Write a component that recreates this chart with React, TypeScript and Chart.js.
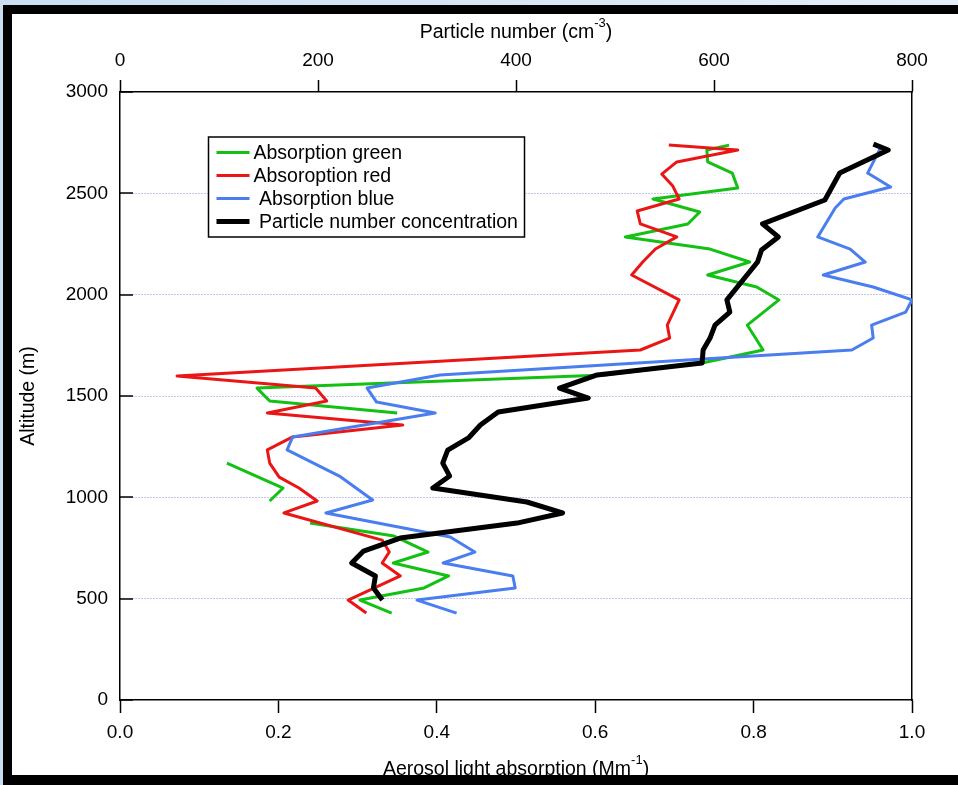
import React, { useEffect, useRef } from "react";
import { Chart, registerables } from "chart.js";

Chart.register(...registerables);

const FONT = "'Liberation Sans', Arial, Helvetica, sans-serif";

// Altitude (m) and aerosol light absorption (Mm^-1); null = gap in the profile
const greenAltitude = [2738, 2714, 2655, 2600, 2526, 2472, 2408, 2349, 2285, 2225, 2161, 2097, 2038, 1974, 1850, 1727, 1663, 1604, 1539, 1475, 1416, null, 1169, 1046, 982, null, 873, 809, 730, 676, 612, 553, 493, 429];
const greenAbsorption = [0.769, 0.741, 0.742, 0.773, 0.78, 0.673, 0.732, 0.717, 0.638, 0.745, 0.795, 0.742, 0.804, 0.832, 0.792, 0.812, 0.735, 0.612, 0.173, 0.189, 0.35, null, 0.135, 0.206, 0.189, null, 0.24, 0.346, 0.389, 0.345, 0.415, 0.384, 0.303, 0.343];

const redAltitude = [2738, 2714, 2655, 2595, 2536, 2472, 2413, 2349, 2285, 2225, 2161, 2097, 1974, 1850, 1786, 1727, 1599, 1539, 1475, 1416, 1357, 1298, 1234, 1169, 1100, 1046, 982, 923, 789, 730, 676, 612, 493, 429];
const redAbsorption = [0.693, 0.78, 0.703, 0.684, 0.698, 0.706, 0.653, 0.657, 0.703, 0.676, 0.66, 0.646, 0.706, 0.691, 0.694, 0.657, 0.072, 0.247, 0.261, 0.186, 0.357, 0.218, 0.186, 0.189, 0.201, 0.226, 0.249, 0.207, 0.331, 0.34, 0.331, 0.354, 0.288, 0.311];

const blueAltitude = [2738, 2600, 2531, 2472, 2428, 2285, 2225, 2161, 2097, 2038, 1974, 1914, 1850, 1786, 1727, 1604, 1539, 1470, 1416, 1298, 1234, 1105, 987, 923, 804, 730, 676, 612, 553, 493, 429];
const blueAbsorption = [0.962, 0.944, 0.973, 0.914, 0.903, 0.881, 0.922, 0.941, 0.888, 0.951, 1.0, 0.992, 0.949, 0.951, 0.924, 0.404, 0.312, 0.324, 0.398, 0.218, 0.211, 0.277, 0.319, 0.26, 0.417, 0.448, 0.408, 0.496, 0.499, 0.375, 0.425];

// Particle number concentration (cm^-3), top axis
const blackAltitude = [2743, 2714, 2600, 2467, 2349, 2285, 2220, 2161, 1974, 1914, 1850, 1786, 1727, 1663, 1604, 1539, 1490, 1421, 1357, 1293, 1233, 1169, 1105, 1046, 977, 923, 873, 799, 735, 676, 612, 553, 493];
const blackParticles = [761, 776, 727, 712, 649, 665, 648, 644, 613, 616, 601, 596, 589, 588, 482, 444, 473, 382, 364, 352, 331, 326, 333, 316, 411, 447, 401, 283, 246, 234, 258, 256, 265];

const seriesLabels = ["Absorption green", "Absoroption red", " Absorption blue", " Particle number concentration"];
const seriesColors = ["#14c014", "#ea1616", "#4a7df0", "#000000"];

const topTitle = [{ t: "Particle number (cm" }, { t: "-3", sup: true }, { t: ")" }];
const bottomTitle = [{ t: "Aerosol light absorption (Mm" }, { t: "-1", sup: true }, { t: ")" }];
const leftTitle = [{ t: "Altitude (m)" }];

function toPoints(alts: (number | null)[], vals: (number | null)[]) {
  return alts.map((a, i) =>
    a === null || vals[i] === null ? { x: NaN, y: NaN } : { x: vals[i] as number, y: a }
  );
}

function drawRich(ctx: CanvasRenderingContext2D, parts: { t: string; sup?: boolean }[], cx: number, cy: number) {
  const big = `19.5px ${FONT}`;
  const small = `13px ${FONT}`;
  let w = 0;
  parts.forEach((p) => {
    ctx.font = p.sup ? small : big;
    w += ctx.measureText(p.t).width;
  });
  let x = cx - w / 2;
  ctx.textBaseline = "middle";
  ctx.textAlign = "left";
  ctx.fillStyle = "#000";
  parts.forEach((p) => {
    ctx.font = p.sup ? small : big;
    ctx.fillText(p.t, x, p.sup ? cy - 10 : cy);
    x += ctx.measureText(p.t).width;
  });
}

const decorPlugin = {
  id: "decor",
  afterDraw(chart: any) {
    const { ctx, chartArea, scales } = chart;
    const ys = scales.y;
    ctx.save();
    // inward ticks on the altitude axis
    ctx.strokeStyle = "#000";
    ctx.lineWidth = 1.5;
    ys.ticks.forEach((t: any) => {
      const py = Math.round(ys.getPixelForValue(t.value));
      ctx.beginPath();
      ctx.moveTo(chartArea.left, py);
      ctx.lineTo(chartArea.left + 13, py);
      ctx.stroke();
    });
    const cx = (chartArea.left + chartArea.right) / 2;
    drawRich(ctx, topTitle, cx, chartArea.top - 59);
    drawRich(ctx, bottomTitle, cx, chartArea.bottom + 70);
    ctx.save();
    ctx.translate(chartArea.left - 91, (chartArea.top + chartArea.bottom) / 2);
    ctx.rotate(-Math.PI / 2);
    drawRich(ctx, leftTitle, 0, 0);
    ctx.restore();

    // legend
    const lx = chartArea.left + 88.5;
    const ly = chartArea.top + 45;
    ctx.fillStyle = "#fff";
    ctx.fillRect(lx, ly, 316, 100);
    ctx.strokeStyle = "#000";
    ctx.lineWidth = 1.5;
    ctx.strokeRect(lx, ly, 316, 100);
    chart.data.datasets.forEach((ds: any, i: number) => {
      const ry = ly + 15.5 + i * 23;
      ctx.strokeStyle = ds.borderColor;
      ctx.lineWidth = ds.borderWidth;
      ctx.beginPath();
      ctx.moveTo(lx + 8, ry);
      ctx.lineTo(lx + 41, ry);
      ctx.stroke();
      ctx.fillStyle = "#000";
      ctx.font = `19.5px ${FONT}`;
      ctx.textBaseline = "middle";
      ctx.textAlign = "left";
      ctx.fillText(ds.label, lx + 45, ry + 1);
    });
    ctx.restore();
  },
};

export default function App() {
  const ref = useRef<HTMLCanvasElement>(null);

  useEffect(() => {
    if (!ref.current) return;
    Chart.defaults.font.family = FONT;
    const tickFont = { size: 19, family: FONT };
    const chart = new Chart(ref.current, {
      type: "line",
      data: {
        datasets: [
          { label: seriesLabels[0], data: toPoints(greenAltitude, greenAbsorption), borderColor: seriesColors[0], borderWidth: 3, xAxisID: "x", yAxisID: "y", order: 3 },
          { label: seriesLabels[1], data: toPoints(redAltitude, redAbsorption), borderColor: seriesColors[1], borderWidth: 3, xAxisID: "x", yAxisID: "y", order: 2 },
          { label: seriesLabels[2], data: toPoints(blueAltitude, blueAbsorption), borderColor: seriesColors[2], borderWidth: 3, xAxisID: "x", yAxisID: "y", order: 1 },
          { label: seriesLabels[3], data: toPoints(blackAltitude, blackParticles), borderColor: seriesColors[3], borderWidth: 5, xAxisID: "x2", yAxisID: "y", order: 0 },
        ] as any,
      },
      options: {
        animation: false,
        responsive: true,
        maintainAspectRatio: false,
        spanGaps: false,
        layout: { padding: 0 },
        elements: {
          point: { radius: 0, hoverRadius: 0 },
          line: { tension: 0, fill: false, borderJoinStyle: "round" },
        },
        plugins: { legend: { display: false }, tooltip: { enabled: false } },
        scales: {
          x: {
            type: "linear",
            position: "bottom",
            min: 0,
            max: 1,
            ticks: { stepSize: 0.2, color: "#000", font: tickFont, padding: 8, callback: (v: any) => Number(v).toFixed(1) },
            grid: { drawOnChartArea: false, drawTicks: true, tickLength: 13, tickColor: "#000", tickWidth: 1.5, color: "#000" },
            border: { display: true, color: "#000", width: 1.5 },
            afterFit: (s: any) => { s.height = 85; },
          },
          x2: {
            type: "linear",
            position: "top",
            min: 0,
            max: 800,
            ticks: { stepSize: 200, color: "#000", font: tickFont, padding: 8, callback: (v: any) => String(v) },
            grid: { drawOnChartArea: false, drawTicks: true, tickLength: 12, tickColor: "#000", tickWidth: 1.5, color: "#000" },
            border: { display: true, color: "#000", width: 1.5 },
            afterFit: (s: any) => { s.height = 92; },
          },
          y: {
            type: "linear",
            position: "left",
            min: 0,
            max: 3000,
            ticks: { stepSize: 500, color: "#000", font: tickFont, padding: 12, callback: (v: any) => String(v) },
            grid: {
              drawTicks: false,
              lineWidth: 1,
              color: (c: any) => (c.tick && (c.tick.value === 0 || c.tick.value === 3000) ? "rgba(0,0,0,0)" : "rgba(110,110,200,0.8)"),
            },
            border: { display: true, color: "#000", width: 1.5, dash: [1, 2] },
            afterFit: (s: any) => { s.width = 120; },
          },
          y2: {
            type: "linear",
            position: "right",
            min: 0,
            max: 3000,
            ticks: { display: false },
            grid: { display: false, drawTicks: false },
            border: { display: true, color: "#000", width: 1.5 },
            afterFit: (s: any) => { s.width = 46; },
          },
        },
      } as any,
      plugins: [decorPlugin],
    });
    return () => chart.destroy();
  }, []);

  return (
    <div style={{ position: "fixed", left: 0, top: 0, width: 958, height: 785, background: "linear-gradient(90deg,#c9def2,#e4eef8)", overflow: "hidden" }}>
      <div style={{ position: "absolute", left: 3, top: 5, width: 955, height: 780, background: "#000" }} />
      <div style={{ position: "absolute", left: 12, top: 14, width: 946, height: 761, background: "#fff" }} />
      <div style={{ position: "absolute", left: 0, top: 0, width: 958, height: 785 }}>
        <canvas ref={ref} />
      </div>
    </div>
  );
}
